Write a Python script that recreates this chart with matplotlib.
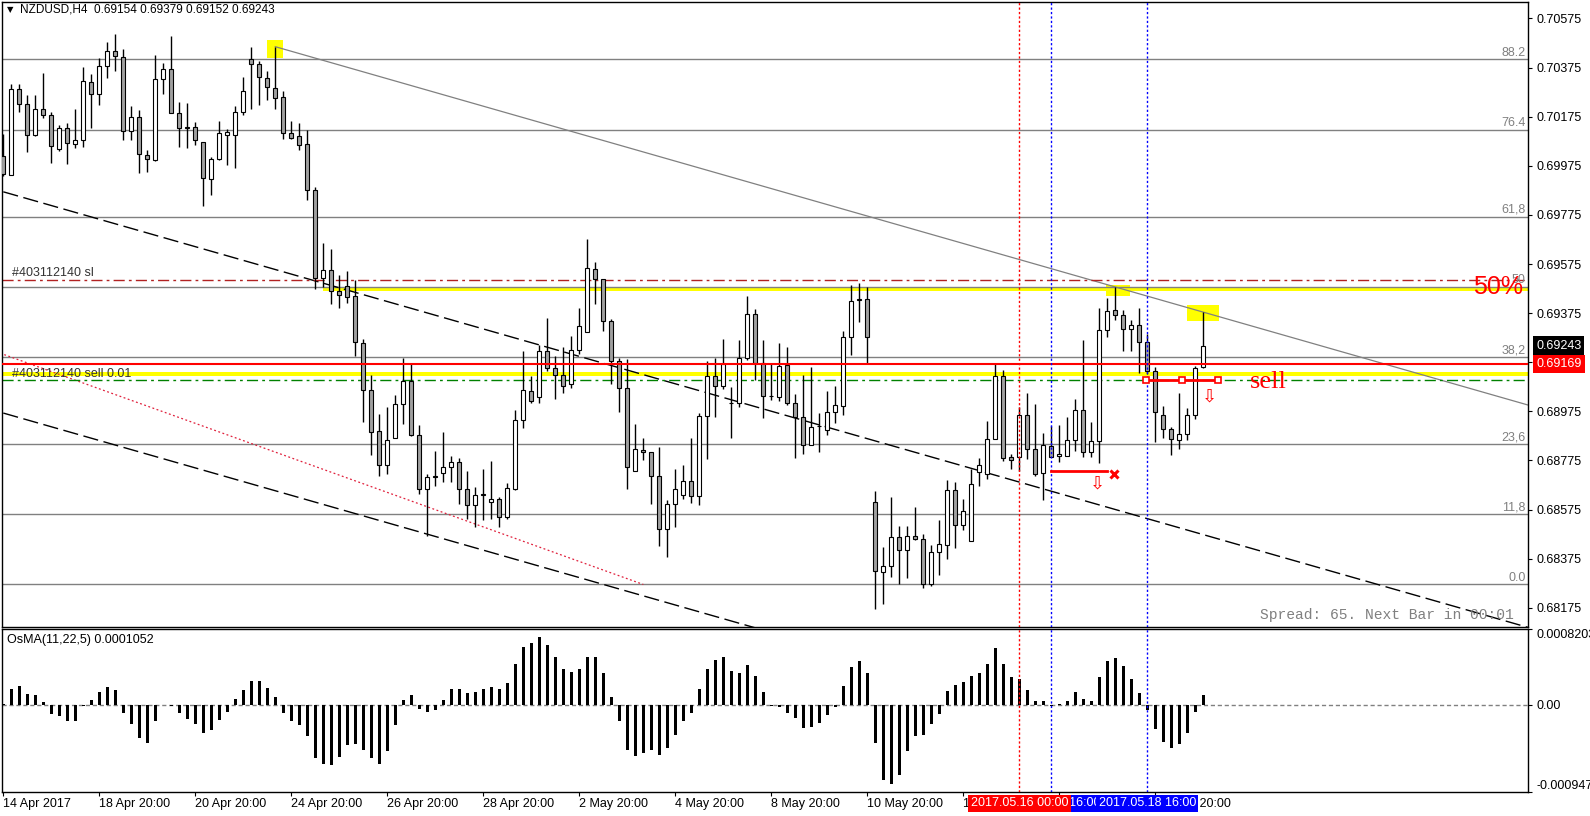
import numpy as np
import matplotlib
matplotlib.use("Agg")
import matplotlib.pyplot as plt
import matplotlib.transforms as mtransforms
from matplotlib.patches import Rectangle

plt.rcParams['font.family'] = ['Liberation Sans', 'DejaVu Sans']

# NZDUSD H4, 14 Apr 2017 20:00 ... 19 May 2017 20:00 (one bar per 4 hours)
opens = [
    0.70014, 0.69937, 0.70286, 0.70225, 0.70099, 0.70206, 0.70180, 0.70045, 0.70128, 0.70062,
    0.70078, 0.70318, 0.70267, 0.70381, 0.70442, 0.70420, 0.70115, 0.70173, 0.70019, 0.69998,
    0.70328, 0.70368, 0.70188, 0.70128, 0.70132, 0.70070, 0.69921, 0.70001, 0.70099, 0.70099,
    0.70196, 0.70409, 0.70388, 0.70334, 0.70293, 0.70254, 0.70107, 0.70095, 0.70062, 0.69876,
    0.69520, 0.69549, 0.69465, 0.69484, 0.69443, 0.69253, 0.69061, 0.68895, 0.68755, 0.68866,
    0.69005, 0.69097, 0.68877, 0.68658, 0.68707, 0.68723, 0.68747, 0.68770, 0.68658, 0.68594,
    0.68636, 0.68605, 0.68618, 0.68544, 0.68658, 0.68940, 0.69056, 0.69032, 0.69220, 0.69150,
    0.69121, 0.69085, 0.69224, 0.69300, 0.69554, 0.69512, 0.69343, 0.69182, 0.69072, 0.68731,
    0.68818, 0.68810, 0.68710, 0.68497, 0.68597, 0.68634, 0.68691, 0.68629, 0.68956, 0.69117,
    0.69080, 0.69010, 0.69008, 0.69193, 0.69370, 0.69172, 0.69037, 0.69032, 0.69164, 0.69008,
    0.68951, 0.68836, 0.68914, 0.68898, 0.68971, 0.68997, 0.69278, 0.69430, 0.69431, 0.68605,
    0.68321, 0.68345, 0.68465, 0.68412, 0.68468, 0.68455, 0.68272, 0.68402, 0.68431, 0.68654,
    0.68514, 0.68447, 0.68726, 0.68718, 0.68863, 0.69119, 0.68790, 0.68790, 0.68960, 0.68820,
    0.68723, 0.68834, 0.68794, 0.68795, 0.68858, 0.68980, 0.68810, 0.68855, 0.69306, 0.69386,
    0.69367, 0.69310, 0.69326, 0.69257, 0.69141, 0.68960, 0.68903, 0.68858, 0.68884, 0.68960,
    0.69154]
highs = [
    0.70103, 0.70309, 0.70307, 0.70264, 0.70264, 0.70351, 0.70194, 0.70143, 0.70149, 0.70206,
    0.70378, 0.70347, 0.70412, 0.70479, 0.70512, 0.70449, 0.70219, 0.70202, 0.70041, 0.70428,
    0.70394, 0.70503, 0.70233, 0.70231, 0.70154, 0.70070, 0.70011, 0.70159, 0.70124, 0.70219,
    0.70336, 0.70460, 0.70400, 0.70359, 0.70460, 0.70281, 0.70157, 0.70151, 0.70122, 0.69888,
    0.69660, 0.69636, 0.69531, 0.69545, 0.69508, 0.69270, 0.69125, 0.68964, 0.68993, 0.69043,
    0.69193, 0.69167, 0.68919, 0.68718, 0.68815, 0.68890, 0.68794, 0.68787, 0.68734, 0.68666,
    0.68741, 0.68773, 0.68625, 0.68683, 0.68979, 0.69220, 0.69117, 0.69245, 0.69357, 0.69201,
    0.69238, 0.69282, 0.69397, 0.69676, 0.69583, 0.69512, 0.69352, 0.69191, 0.69188, 0.68924,
    0.68866, 0.68810, 0.68831, 0.68613, 0.68741, 0.68757, 0.68866, 0.68968, 0.69182, 0.69193,
    0.69270, 0.69075, 0.69265, 0.69444, 0.69393, 0.69265, 0.69169, 0.69253, 0.69236, 0.69045,
    0.69125, 0.69156, 0.68968, 0.69056, 0.69080, 0.69301, 0.69488, 0.69496, 0.69480, 0.68650,
    0.68424, 0.68625, 0.68509, 0.68509, 0.68586, 0.68477, 0.68431, 0.68533, 0.68694, 0.68689,
    0.68617, 0.68742, 0.68787, 0.68935, 0.69169, 0.69145, 0.68802, 0.68992, 0.69051, 0.69005,
    0.68887, 0.68916, 0.68919, 0.68951, 0.69027, 0.69265, 0.68932, 0.69397, 0.69438, 0.69480,
    0.69389, 0.69346, 0.69394, 0.69290, 0.69156, 0.68997, 0.68911, 0.69051, 0.68987, 0.69161,
    0.69379]
lows = [
    0.69934, 0.69937, 0.70196, 0.70033, 0.70095, 0.70170, 0.69985, 0.70037, 0.69982, 0.70046,
    0.70051, 0.70130, 0.70223, 0.70331, 0.70363, 0.70082, 0.70078, 0.69946, 0.69950, 0.69996,
    0.70267, 0.70188, 0.70051, 0.70046, 0.70058, 0.69813, 0.69858, 0.70000, 0.69977, 0.69966,
    0.70180, 0.70207, 0.70223, 0.70244, 0.70207, 0.70085, 0.70085, 0.70041, 0.69837, 0.69475,
    0.69483, 0.69414, 0.69394, 0.69418, 0.69201, 0.68931, 0.68799, 0.68710, 0.68718, 0.68866,
    0.68922, 0.68874, 0.68638, 0.68467, 0.68673, 0.68686, 0.68686, 0.68597, 0.68536, 0.68504,
    0.68533, 0.68538, 0.68504, 0.68536, 0.68654, 0.68906, 0.69011, 0.69008, 0.69141, 0.69027,
    0.69048, 0.69072, 0.69209, 0.69297, 0.69414, 0.69301, 0.69088, 0.68971, 0.68660, 0.68731,
    0.68778, 0.68597, 0.68425, 0.68380, 0.68504, 0.68618, 0.68602, 0.68594, 0.68782, 0.68951,
    0.69064, 0.68866, 0.68992, 0.69185, 0.69104, 0.68948, 0.69021, 0.69016, 0.69000, 0.68787,
    0.68803, 0.68836, 0.68811, 0.68879, 0.68927, 0.68960, 0.69204, 0.69338, 0.69172, 0.68171,
    0.68192, 0.68299, 0.68272, 0.68296, 0.68453, 0.68256, 0.68264, 0.68307, 0.68372, 0.68417,
    0.68493, 0.68447, 0.68670, 0.68699, 0.68863, 0.68774, 0.68739, 0.68734, 0.68779, 0.68710,
    0.68613, 0.68790, 0.68770, 0.68795, 0.68815, 0.68790, 0.68790, 0.68766, 0.69278, 0.69346,
    0.69220, 0.69220, 0.69133, 0.69129, 0.68852, 0.68866, 0.68799, 0.68823, 0.68858, 0.68943,
    0.69152]
closes = [
    0.69942, 0.70288, 0.70227, 0.70099, 0.70206, 0.70182, 0.70054, 0.70128, 0.70067, 0.70078,
    0.70320, 0.70267, 0.70381, 0.70442, 0.70421, 0.70115, 0.70173, 0.70022, 0.70001, 0.70328,
    0.70368, 0.70190, 0.70127, 0.70132, 0.70078, 0.69924, 0.70003, 0.70110, 0.70112, 0.70196,
    0.70278, 0.70388, 0.70336, 0.70296, 0.70251, 0.70107, 0.70087, 0.70059, 0.69876, 0.69520,
    0.69549, 0.69465, 0.69447, 0.69439, 0.69257, 0.69061, 0.68890, 0.68755, 0.68858, 0.69003,
    0.69097, 0.68877, 0.68658, 0.68707, 0.68710, 0.68747, 0.68770, 0.68658, 0.68594, 0.68634,
    0.68638, 0.68618, 0.68544, 0.68662, 0.68940, 0.69061, 0.69019, 0.69220, 0.69150, 0.69121,
    0.69080, 0.69224, 0.69322, 0.69558, 0.69512, 0.69343, 0.69182, 0.69072, 0.68747, 0.68820,
    0.68810, 0.68710, 0.68497, 0.68597, 0.68658, 0.68691, 0.68629, 0.68956, 0.69117, 0.69080,
    0.69166, 0.69008, 0.69193, 0.69370, 0.69172, 0.69037, 0.69039, 0.69158, 0.69008, 0.68951,
    0.68836, 0.68911, 0.68916, 0.68971, 0.69000, 0.69278, 0.69426, 0.69432, 0.69277, 0.68324,
    0.68345, 0.68465, 0.68409, 0.68468, 0.68455, 0.68272, 0.68402, 0.68433, 0.68654, 0.68514,
    0.68568, 0.68678, 0.68758, 0.68863, 0.69119, 0.68787, 0.68778, 0.68960, 0.68823, 0.68718,
    0.68839, 0.68790, 0.68802, 0.68858, 0.68980, 0.68810, 0.68855, 0.69306, 0.69383, 0.69367,
    0.69310, 0.69326, 0.69257, 0.69141, 0.68972, 0.68903, 0.68863, 0.68884, 0.68960, 0.69150,
    0.69243]

# OsMA(11,22,5) histogram, units of 1e-4
osma = [
    0.10, 1.66, 1.98, 1.12, 1.00, 0.25, -1.04, -1.22, -1.76, -1.76,
    -0.14, 0.47, 1.33, 1.90, 1.55, -0.90, -2.12, -3.60, -4.14, -1.76,
    -0.04, -0.14, -0.94, -1.55, -2.12, -3.06, -2.77, -1.66, -0.83, 0.58,
    1.55, 2.52, 2.52, 1.76, 0.83, -0.94, -1.76, -2.20, -3.38, -5.76,
    -6.41, -6.52, -5.65, -4.36, -4.25, -4.90, -5.76, -6.41, -5.00, -2.20,
    0.54, 1.00, -0.50, -0.79, -0.58, 0.54, 1.66, 1.66, 1.22, 1.33,
    1.66, 1.87, 1.66, 2.30, 4.46, 6.30, 6.73, 7.34, 6.52, 5.22,
    3.82, 3.49, 3.82, 5.22, 5.22, 3.38, 0.79, -1.76, -4.90, -5.54,
    -5.22, -4.90, -5.44, -4.68, -3.28, -1.76, -0.90, 1.66, 3.92, 4.79,
    5.22, 3.60, 3.38, 4.25, 3.06, 1.33, -0.14, -0.25, -0.90, -1.44,
    -2.52, -2.41, -1.98, -1.12, -0.25, 1.98, 4.03, 4.68, 3.38, -4.14,
    -8.14, -8.57, -7.60, -5.00, -3.38, -3.28, -2.09, -1.01, 1.44, 2.09,
    2.41, 3.06, 3.38, 4.36, 6.19, 4.46, 2.95, 2.74, 1.55, 0.36,
    0.36, -0.10, 0.04, 0.36, 1.33, 0.58, 0.36, 2.95, 4.68, 5.11,
    4.14, 2.74, 1.22, -0.61, -2.63, -4.03, -4.68, -4.25, -3.06, -0.79,
    1.05]

tick_bars = [0, 12, 24, 36, 48, 60, 72, 84, 96, 108, 120, 132, 144]
tick_text = ['14 Apr 2017', '18 Apr 20:00', '20 Apr 20:00', '24 Apr 20:00', '26 Apr 20:00',
             '28 Apr 20:00', '2 May 20:00', '4 May 20:00', '8 May 20:00', '10 May 20:00',
             '12 May 20:00', '16 May 20:00', '18 May 20:00']

# fibonacci retracement 0.6827 -> 0.70694
fib_low, fib_high = 0.6827, 0.70694
fib_levels = [0.0, 0.118, 0.236, 0.382, 0.5, 0.618, 0.764, 0.882]
fib_labels = ['0.0', '11,8', '23,6', '38,2', '50', '61,8', '76.4', '88.2']

sl_price = 0.6951
entry_price = 0.69102
bid_price = 0.69169
last_price = 0.69243

# lines as (bar, price, bar, price)
trend_gray = (34, 0.70460, 150, 0.69379)
channel_up = (0, 0.69869, 183.3, 0.68163)
channel_lo = (0, 0.68968, 89.2, 0.68138)
red_dotted = (-0.4, 0.69212, 80, 0.68270)

# vertical markers: bar, colour, label
vmarks = [(131, 'blue', '2017.05.16 16:00'), (127, 'red', '2017.05.16 00:00'),
          (143, 'blue', '2017.05.18 16:00')]

W, H = 1590, 816
fig = plt.figure(figsize=(W / 100, H / 100), dpi=100)
ax = fig.add_axes([2 / W, 1 - 626.7 / H, 1526 / W, 624.7 / H])
axo = fig.add_axes([2 / W, 1 - 792 / H, 1526 / W, 163 / H])

n = len(opens)
x = np.arange(n)
o = np.array(opens); h = np.array(highs); l = np.array(lows); c = np.array(closes)
xmin, xmax = -0.1625, 190.59
ax.set_xlim(xmin, xmax)
ax.set_ylim(0.68098, 0.70642)
axo.set_xlim(xmin, xmax)
axo.set_ylim(-0.000947, 0.0008203)

yblend = mtransforms.blended_transform_factory(ax.transAxes, ax.transData)

# candles
up = c >= o
ax.vlines(x, l, h, color='black', lw=1.0, zorder=3)
ax.bar(x, np.abs(c - o), bottom=np.minimum(o, c), width=0.55,
       color=np.where(up, 'white', '#a0a0a0'), edgecolor='black', linewidth=0.8, zorder=4)

# fib levels
for lv, lab in zip(fib_levels, fib_labels):
    p = fib_low + lv * (fib_high - fib_low)
    ax.axhline(p, color='#808080', lw=1, zorder=1)
    ax.text(0.9985, p + 0.00003, lab, transform=yblend, ha='right', va='bottom',
            color='#808080', fontsize=9, zorder=6)

# yellow zones
ax.axhspan(0.69117, 0.69137, color='#ffff00', lw=0, zorder=0.5)
ax.add_patch(Rectangle((40, 0.69466), xmax - 40, 0.00014, color='#ffff00', lw=0, zorder=0.5))
for bx, by, bw, bh in [(33, 0.70413, 2, 0.00074), (137.9, 0.69446, 3, 0.00044), (148, 0.69343, 4, 0.00067)]:
    ax.add_patch(Rectangle((bx, by), bw, bh, color='#ffff00', lw=0, zorder=0.5))

def ray(a, x_end):
    x0, p0, x1, p1 = a
    k = (p1 - p0) / (x1 - x0)
    return [x0, x_end], [p0, p0 + k * (x_end - x0)]

ax.plot(*ray(trend_gray, xmax), color='#808080', lw=0.9, zorder=2)
ax.plot(*ray(channel_up, xmax), color='black', lw=1, ls=(0, (11, 4)), zorder=2)
ax.plot(*ray(channel_lo, xmax), color='black', lw=1, ls=(0, (11, 4)), zorder=2)
ax.plot([red_dotted[0], red_dotted[2]], [red_dotted[1], red_dotted[3]],
        color='#e0203c', lw=0.9, ls=(0, (1.5, 2)), zorder=2)

# order lines
ax.axhline(sl_price, color='#b22222', lw=1, ls=(0, (8, 3, 2, 3)), zorder=2)
ax.axhline(entry_price, color='#008000', lw=1, ls=(0, (8, 3, 2, 3)), zorder=2)
ax.axhline(bid_price, color='red', lw=1.5, zorder=5)
ax.text(10 / 1526, 0.69539, '#403112140 sl', transform=yblend, va='center', fontsize=9, color='#333333', zorder=6)
ax.text(10 / 1526, 0.69129, '#403112140 sell 0.01', transform=yblend, va='center', fontsize=9, color='#333333', zorder=6)

# closed / open trade marks
ax.plot([131, 138], [0.68731, 0.68731], color='red', lw=2, zorder=6)
ax.plot([138.9], [0.68721], marker='x', color='red', ms=6, mew=2.2, zorder=6)
ax.text(136.8, 0.68683, '\u21e9', color='red', fontsize=13, ha='center', va='center',
        family='DejaVu Sans', zorder=6)
ax.plot([142.9, 147.4, 151.9], [0.69101] * 3, color='red', lw=2, marker='s', ms=4,
        mfc='white', mec='red', mew=1.2, zorder=6)
ax.text(150.8, 0.69037, '\u21e9', color='red', fontsize=13, ha='center', va='center',
        family='DejaVu Sans', zorder=6)
ax.text(155.8, 0.69072, 'sell', color='red', fontsize=19, family='Liberation Serif',
        ha='left', va='baseline', zorder=7)
ax.text(183.7, 0.69483, '50%', color='red', fontsize=18, ha='left', va='center', zorder=7)

ax.text((1260 - 2) / 1526, (626.7 - 615) / 624.7, 'Spread: 65. Next Bar in 00:01',
        transform=ax.transAxes, family='Liberation Mono', fontsize=10.5, color='#808080',
        va='center', zorder=7)

# vertical dotted lines
for bi, col, _ in vmarks:
    for a in (ax, axo):
        a.axvline(bi, color=col, lw=1, ls=(0, (1.6, 1.6)), zorder=5)

# price scale
yt = np.round(np.arange(0.68175, 0.70576, 0.002), 5)
ax.yaxis.tick_right()
ax.set_yticks(yt)
ax.set_yticklabels([f'{v:.5f}' for v in yt])
ax.tick_params(axis='y', direction='out', length=3, pad=3, labelsize=9)
ax.set_xticks([])
for bp, fc in [(last_price, 'black'), (bid_price, 'red')]:
    ax.text(1 + 8 / 1526, bp, f'{bp:.5f}', transform=yblend, ha='left', va='center',
            color='white', fontsize=9, clip_on=False, zorder=10,
            bbox=dict(boxstyle='square,pad=0.25', fc=fc, ec='none'))

# OsMA panel
axo.bar(x, np.array(osma) * 1e-4, width=0.37, color='black', zorder=3)
axo.axhline(0, color='#808080', lw=1, ls=(0, (3, 2)), zorder=2)
axo.text(5 / 1526, (792 - 640) / 163, 'OsMA(11,22,5) 0.0001052', transform=axo.transAxes,
         fontsize=9, va='center')
axo.yaxis.tick_right()
axo.set_yticks([0.0008203, 0.0, -0.000947])
axo.set_yticklabels(['0.0008203', '0.00', '-0.000947'])
axo.tick_params(axis='y', direction='out', length=3, pad=3, labelsize=9)
ylabs = axo.get_yticklabels()
ylabs[0].set_va('top')
ylabs[2].set_va('bottom')
axo.set_xticks(tick_bars)
axo.set_xticklabels(tick_text, ha='left')
axo.tick_params(axis='x', direction='out', length=3, pad=1, labelsize=9)

xblend = mtransforms.blended_transform_factory(axo.transData, axo.transAxes)
for bi, col, lab in vmarks:
    axo.text(bi, -0.0675, lab, transform=xblend, ha='center', va='center', color='white',
             fontsize=9, clip_on=False, zorder=10,
             bbox=dict(boxstyle='square,pad=0.2', fc=col, ec='none'))

for a in (ax, axo):
    for s in a.spines.values():
        s.set_color('black')
        s.set_linewidth(1)

fig.text(7 / W, 1 - 10 / H, '\u25bc', fontsize=6, va='center', family='DejaVu Sans')
fig.text(20 / W, 1 - 10 / H, 'NZDUSD,H4  0.69154 0.69379 0.69152 0.69243', fontsize=8.5, va='center')

fig.savefig('out.png', dpi=100, facecolor='white')
